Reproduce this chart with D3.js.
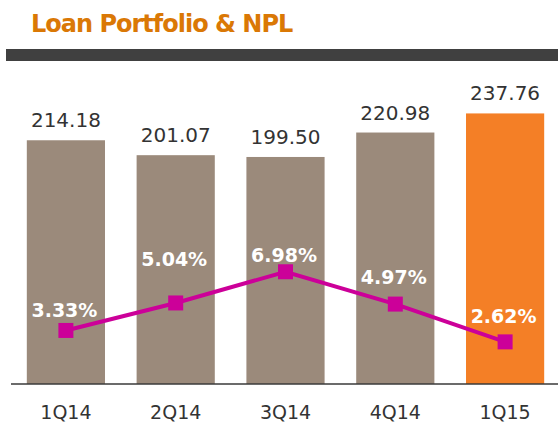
<!DOCTYPE html>
<html>
<head>
<meta charset="utf-8">
<script src="https://cdn.jsdelivr.net/npm/d3@7"></script>
<style>
  body { margin: 0; background: #fff; }
  svg { display: block; font-family: "DejaVu Sans", Verdana, sans-serif; }
</style>
</head>
<body>
<svg width="558" height="425"></svg>
<script>
// data
const quarters = ["1Q14", "2Q14", "3Q14", "4Q14", "1Q15"]
const loans = [214.18, 201.07, 199.50, 220.98, 237.76]
const npl = [3.33, 5.04, 6.98, 4.97, 2.62]

const svg = d3.select("svg")
const baseY = 384

// title + dark band
svg.append("text")
  .attr("x", 31).attr("y", 32)
  .attr("font-size", 24).attr("font-weight", "bold")
  .attr("letter-spacing", -1)
  .attr("fill", "#DA7805")
  .text("Loan Portfolio & NPL")

svg.append("rect")
  .attr("x", 6).attr("y", 49).attr("width", 552).attr("height", 12)
  .attr("fill", "#404040")

let x = d3.scaleBand().domain(quarters).range([11, 560]).paddingInner(0.288).paddingOuter(0.144)
let y = d3.scaleLinear().domain([0, 250]).range([baseY, baseY - 250 * 1.138])
let y2 = d3.scaleLinear().domain([0, 10]).range([baseY, baseY - 160.8])

// bars
svg.selectAll("rect.bar").data(loans).enter().append("rect")
  .attr("class", "bar")
  .attr("x", (d, i) => x(quarters[i]))
  .attr("y", d => y(d))
  .attr("width", x.bandwidth())
  .attr("height", d => baseY - y(d))
  .attr("fill", (d, i) => i == quarters.length - 1 ? "#F47F26" : "#9B8A7B")

svg.selectAll("text.val").data(loans).enter().append("text")
  .attr("class", "val")
  .attr("x", (d, i) => x(quarters[i]) + x.bandwidth() / 2)
  .attr("y", d => y(d) - 13)
  .attr("text-anchor", "middle")
  .attr("font-size", 20)
  .attr("fill", "#333")
  .text(d => d.toFixed(2))

// baseline
svg.append("line")
  .attr("x1", 11).attr("x2", 558).attr("y1", baseY).attr("y2", baseY)
  .attr("stroke", "#3a3a3a").attr("stroke-width", 1.5)

// category labels
let xAxis = svg.append("g").attr("transform", `translate(0,${baseY})`)
  .call(d3.axisBottom(x).tickSize(0).tickPadding(0))
xAxis.select(".domain").remove()
xAxis.selectAll("text")
  .attr("y", 35).attr("dy", null)
  .attr("font-size", 19).attr("font-family", "DejaVu Sans, Verdana, sans-serif")
  .attr("fill", "#333")

// npl line
const cx = (d, i) => x(quarters[i]) + x.bandwidth() / 2
svg.append("path")
  .datum(npl)
  .attr("d", d3.line().x(cx).y(d => y2(d)))
  .attr("fill", "none").attr("stroke", "#CC0099").attr("stroke-width", 4)

svg.selectAll("rect.mark").data(npl).enter().append("rect")
  .attr("class", "mark")
  .attr("x", (d, i) => cx(d, i) - 7.5)
  .attr("y", d => y2(d) - 7.5)
  .attr("width", 15).attr("height", 15)
  .attr("fill", "#CC0099")

// label offsets above markers (as laid out in the original slide)
const labelDy = [-13, -37, -10, -20, -19]
svg.selectAll("text.pct").data(npl).enter().append("text")
  .attr("class", "pct")
  .attr("x", (d, i) => cx(d, i) - 1.5)
  .attr("y", (d, i) => y2(d) + labelDy[i])
  .attr("text-anchor", "middle")
  .attr("font-size", 19).attr("font-weight", "bold")
  .attr("fill", "#fff")
  .text(d => d.toFixed(2) + "%")
</script>
</body>
</html>
